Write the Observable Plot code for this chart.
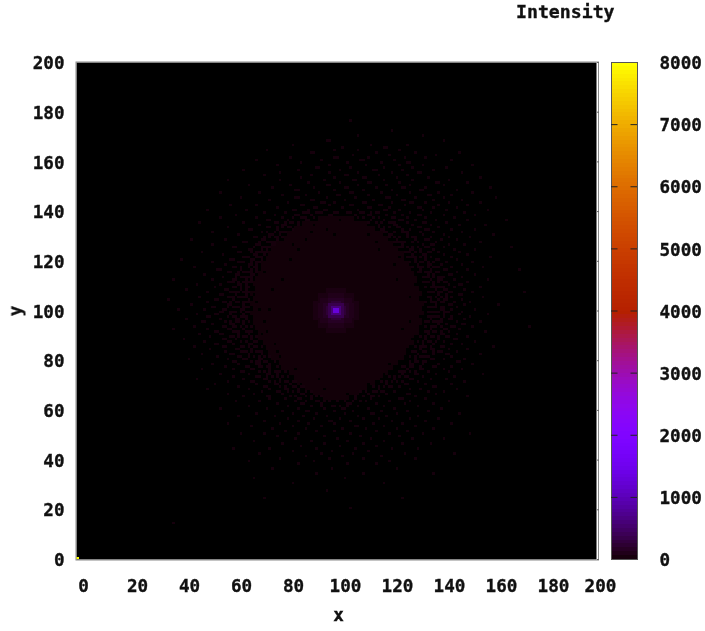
<!DOCTYPE html>
<html><head><meta charset="utf-8">
<script src="https://cdn.jsdelivr.net/npm/d3@7"></script>
<script src="https://cdn.jsdelivr.net/npm/@observablehq/plot@0.6"></script>
<style>
html,body{margin:0;padding:0;background:#fff}
#chart{position:relative;width:705px;height:631px;overflow:hidden}
#chart svg{position:absolute;left:0;top:0;background:transparent}
#chart svg text{filter:blur(.3px);stroke:#111;stroke-width:.35px}
#title{position:absolute;left:516px;top:1px;font:bold 18.2px 'DejaVu Sans Mono',monospace;color:#111;filter:blur(.3px);-webkit-text-stroke:.35px #111}
</style></head><body>
<div id="chart"><div id="title">Intensity</div></div>
<script>
// Axis ticks
const xTicksMiddle = [20,40,60,80,100,120,140,160,180];
const yTicks = [0,20,40,60,80,100,120,140,160,180,200];
const barTicks = [0,1000,2000,3000,4000,5000,6000,7000,8000];
const intensityDomain = [0,8000];

// Dim central disc, read row by row (two-unit rows)
const discY  = [136,134,132,130,128,126,124,122,120,118,116,114,112,110,108,106,104,102,100,98,96,94,92,90,88,86,84,82,80,78,76,74,72,70,68,66,64];
const discX1 = [93,87,84,81,80,77,75,74,73,71,71,70,69,68,69,67,68,67,68,67,68,68,69,70,70,72,73,74,75,78,79,82,84,85,88,91,95];
const discX2 = [107,112,115,118,120,122,124,126,126,128,129,130,131,131,132,133,132,134,133,134,133,133,132,132,130,130,128,127,126,124,122,120,118,115,112,109,105];
const discLevel = 42;

// Black gaps inside the disc, mostly towards its edge
const holeX = [82,88,75,72,76,84,95,112,120,125,128,122,112,96,79,74,71,86,104,118,127,130,116,91,85,101,69,132,123,78,108,93,73,126,99,81,115,70,129,89,68,133,83,117,77,124,90,110,72,128];
const holeY = [120,128,108,95,86,76,68,70,78,92,105,118,130,132,112,100,90,70,66,74,84,110,124,134,124,136,103,97,112,81,65,72,91,79,130,132,127,100,88,67,106,101,126,72,83,121,131,67,115,95];

// Glow around the peak, drawn from the outside in
const coreX1 = [96,93,91, 97,94,93, 97,95, 98,96, 97, 98, 99];
const coreX2 = [104,107,109, 103,106,107, 103,105, 102,104, 103, 102, 101];
const coreY1 = [91,93,96, 93,95,97, 95,97, 96,98, 97, 98, 99];
const coreY2 = [109,107,104, 107,105,103, 105,103, 104,102, 103, 102, 101];
const coreV  = [85,85,85, 125,125,125, 180,180, 270,270, 390, 640, 1300];

// The single bright cell in the bottom-left corner
const cornerX = [0];
const cornerY = [0];
const cornerV = [8000];

// Scattered faint cells: each row is y, then its x positions
const speckleLevel = 58;
const speckleRows = [
[176,105],[172,121],[170,108,133],[168,96,97,141],[166,83,113,127],[165,102,118,119],
[164,73,99,108,124],[163,90,91,115,130,147],[162,106,120,138],[161,82,99,100,112,126,134],
[160,69,94,109,110,122,144],[159,86,104,117,127,128],[158,77,97,111,124,133,152],[157,92,93,105,118,129,142],
[156,64,85,101,114,115,125,137],[155,78,97,108,121,131,132,148],[154,72,90,103,104,116,127],[153,86,99,110,111,123,135,155],
[152,58,78,95,106,107,118,129,143],[151,89,101,112,113,124,138,139,150],[150,66,82,96,97,108,119,128,141],[149,75,91,103,104,115,125,126,134,159],
[148,84,85,99,110,121,132,133,146],[147,55,70,93,105,106,117,128,139,152],[146,79,88,100,101,112,123,135,136,144],[145,63,84,85,96,107,119,120,130,141,161],
[144,74,90,91,103,114,125,126,137,148],[143,81,94,95,99,110,111,121,128,129,134,143,155],[142,59,69,86,87,97,105,106,116,117,126,139,150],[141,77,91,92,102,112,113,120,131,132,137,146],
[140,50,65,83,84,89,95,96,108,118,119,124,133,142,158],[139,72,80,87,88,92,93,100,104,110,115,116,122,128,136,149],[138,61,76,84,85,90,97,98,107,112,113,119,125,131,132,141,153],[137,55,69,79,86,87,91,102,103,108,114,121,122,127,134,145],
[136,73,74,81,88,89,113,118,124,125,130,138,150,165],[135,47,64,76,77,83,85,115,120,121,127,133,134,142],[134,70,79,80,85,116,122,123,129,136,147,157],[133,58,73,74,81,82,118,124,131,132,139],
[132,66,67,77,83,117,118,125,128,134,135,144,153],[131,52,71,78,79,119,126,127,132,137,148],[130,62,74,75,78,120,121,127,133,141,160],[129,68,69,76,79,122,129,130,136,143,151],
[128,44,57,71,72,77,123,130,134,135,140,146],[127,64,65,73,75,124,125,131,138,155],[126,52,69,70,75,76,125,133,136,137,143,149],[125,60,61,72,73,127,134,135,141,167],
[124,66,67,71,73,128,129,132,137,145,153],[123,48,62,63,70,72,128,135,136,139,147],[122,56,68,69,72,129,133,134,141,150],[121,64,65,70,127,130,136,144,159],
[120,40,59,60,67,68,71,130,134,138,139,146],[119,52,62,63,69,70,130,132,137,142,152],[118,57,66,67,69,131,135,136,140,148],[117,45,60,61,68,129,133,138,139,144,156],
[116,54,55,63,67,69,132,136,141,142,150,170],[115,58,59,65,66,134,135,139,146],[114,49,61,62,67,68,135,137,143,144,153],[113,56,63,64,66,134,140,141,148],
[112,37,52,60,61,65,67,136,139,140,145,158],[111,58,59,64,66,135,141,142,150],[110,46,55,62,63,65,137,143,147,148],[109,53,60,61,66,136,139,140,145,155],
[108,42,57,58,63,65,138,141,142,149],[107,50,59,60,64,137,143,144,152,172],[106,55,56,61,65,139,142,147,148],[105,47,58,59,63,64,138,144,156],
[104,35,53,54,60,66,136,139,141,142,148],[103,50,56,57,62,65,137,140,145,151],[102,44,58,59,64,138,143,144,149,162],[101,52,53,60,61,66,136,141,146],
[100,39,49,56,57,63,64,140,141,144,153],[99,55,56,61,65,137,139,142,143,148],[98,46,53,54,59,64,141,147,158],[97,50,51,58,63,138,139,144,151],
[96,42,55,61,62,65,136,140,143,144,149],[95,48,49,57,62,137,138,146,155],[94,52,59,60,64,139,142,148,149],[93,45,56,57,61,138,144,145,152,174],
[92,37,50,58,59,64,136,141,142,147],[91,53,54,60,65,137,143,157],[90,47,55,56,62,66,135,140,141,146],[89,51,59,60,64,136,142,143,150],
[88,41,56,57,61,67,134,139,145,146],[87,49,58,59,63,135,136,141,153],[86,53,54,60,66,67,133,137,144,148],[85,45,56,57,64,68,134,140,141,160],
[84,51,61,62,67,132,136,137,143,150],[83,57,63,64,69,133,139,140,146],[82,48,59,60,66,71,131,137,142,143,155],[81,54,62,63,68,132,135,144],
[80,43,58,64,65,70,71,130,136,137,141,149],[79,60,61,67,72,130,134,146,147],[78,52,62,69,70,74,128,129,133,139,152],[77,57,65,66,71,129,137,138,144],
[76,48,60,67,68,74,127,132,133,141,148],[75,63,64,70,76,77,126,135,143],[74,55,66,73,74,77,125,130,131,138,156],[73,60,69,70,75,124,133,145],
[72,46,64,72,73,78,122,128,129,136,142],[71,58,67,68,74,80,81,121,131,149],[70,53,69,76,77,82,119,126,127,134,144],[69,62,72,73,78,84,118,124,137,138],
[68,50,66,74,80,81,85,116,128,132,146],[67,71,77,78,83,114,115,122,135,141],[66,58,68,79,86,87,112,119,127,128,138],[65,64,73,74,82,88,110,116,130,150],
[64,74,80,85,86,90,107,113,124,125,134],[63,61,70,84,92,93,100,111,120,128,143],[62,77,86,87,94,104,105,115,126,137],[61,66,81,90,98,99,108,118,131],
[60,55,73,85,95,102,103,112,122,140],[59,79,88,89,99,106,117,127,135],[58,69,83,92,103,113,114,123,147],[57,62,76,87,96,108,119,131],
[56,81,91,101,110,116,128,139],[55,72,85,97,98,105,121,134],[54,58,78,89,99,114,125,144],[53,67,83,94,107,108,118,130],
[52,75,88,102,111,123,137],[51,80,92,99,115,127],[50,63,72,85,105,120,133,151],[49,77,95,109,124],
[48,84,100,113,129,141],[47,68,90,104,118],[46,79,95,110,125,136],[45,86,101,115],
[44,60,74,92,107,121,131],[43,83,98,112],[42,70,94,106,126,145],[41,88,102,117],
[40,78,97,110,130],[39,66,91,120],[38,85,104,115],[36,75,98,123],[34,92,110,137],[32,68,103],[30,83,118],[27,96],[24,72,125],[20,105],[14,37]
];
// More faint cells crowding the disc's rim
const rimRows = [
[139,89,94,99,105,109,113],[137,83,88,93,98,101,106,110,116],[135,80,82,87,91,94,109,112,117,122],[133,77,79,84,86,113,116,120,123],
[131,73,76,80,82,115,118,122,125],[129,72,74,77,80,118,120,124,127],[127,70,74,76,122,123,126,129],[125,68,71,74,124,125,129,131],
[123,67,69,71,73,126,127,130,132],[121,66,69,71,128,129,132,134],[119,64,67,70,128,130,133,135],[117,63,66,69,131,132,135,137],
[115,62,64,67,69,131,132,136,138],[113,61,65,67,133,135,137,139],[111,60,62,65,67,133,134,137,139],[109,60,63,65,134,137,138,141],
[107,61,62,65,66,135,136,139,140],[105,60,62,65,135,136,140,142],[103,59,61,64,66,134,136,138,141],[101,58,62,64,65,135,137,138,140],
[99,59,60,63,66,135,136,138,141],[97,60,61,64,65,135,136,137,141],[95,59,61,64,66,134,135,139,140],[93,60,63,65,67,134,136,137,140],
[91,61,62,66,67,134,135,138,140],[89,62,65,67,69,132,134,137,139],[87,63,65,68,69,131,133,135,138],[85,63,66,69,71,130,132,133,136],
[83,65,67,70,71,129,130,134,137],[81,66,70,72,74,128,130,133,134],[79,69,70,73,76,126,128,131,133],[77,70,73,74,77,125,126,128,132],
[75,72,74,78,80,124,125,128,130],[73,73,77,79,81,120,122,126,127],[71,76,78,83,84,117,119,123,125],[69,80,83,86,87,114,116,120,121],
[67,81,85,88,90,109,111,117,118],[65,84,90,92,94,104,107,113,114],[63,88,95,97,103,106,109],[61,94,101,104]
];
const scatterRows = speckleRows.concat(rimRows);
const speckleX = scatterRows.flatMap(r => r.slice(1));
const speckleY = scatterRows.flatMap(r => r.slice(1).map(() => r[0]));

const fontSpec = "bold 17.6px 'DejaVu Sans Mono',monospace";
const ink = "#111";
const palette = t => `rgb(${255*Math.sqrt(t)},${255*t*t*t},${255*Math.max(0,Math.sin(2*Math.PI*t))})`;
const colorScale = {type:"linear", domain:intensityDomain, interpolate:palette};

const cell = (xs, ys, v) => Plot.rect(d3.range(xs.length), {
  x1:i=>xs[i], x2:i=>xs[i]+1, y1:i=>ys[i], y2:i=>ys[i]+1,
  fill:i=>typeof v==="number"?v:v[i], shapeRendering:"crispEdges"
});

const main = Plot.plot({
  width:705, height:631, marginLeft:76, marginRight:109, marginTop:62, marginBottom:72,
  style:{font:fontSpec, color:ink, background:"transparent"},
  x:{domain:[0,200], label:null},
  y:{domain:[0,200], label:null},
  color:colorScale,
  marks:[
    Plot.frame({fill:"#000"}),
    cell(speckleX, speckleY, speckleLevel),
    Plot.rect(d3.range(discY.length), {x1:i=>discX1[i], x2:i=>discX2[i], y1:i=>discY[i], y2:i=>discY[i]+2, fill:()=>discLevel, shapeRendering:"crispEdges"}),
    cell(holeX, holeY, 0),
    Plot.rect(d3.range(coreV.length), {x1:i=>coreX1[i], x2:i=>coreX2[i], y1:i=>coreY1[i], y2:i=>coreY2[i], fill:i=>coreV[i], shapeRendering:"crispEdges"}),
    cell(cornerX, cornerY, cornerV),
    Plot.frame({stroke:"#8a8a8a", strokeWidth:1, insetLeft:-.5, insetTop:-.5, insetBottom:-.5, insetRight:-2}),
    Plot.axisY(yTicks, {anchor:"left", tickSize:0, tickPadding:12, dy:1, label:"y", labelAnchor:"center", labelOffset:68, labelArrow:"none", fill:ink}),
    Plot.axisY(yTicks, {anchor:"right", tickSize:2, fill:"none", label:null, stroke:"#666"}),
    Plot.axisX(xTicksMiddle, {anchor:"bottom", tickSize:0, tickPadding:20, dx:9, label:null, fill:ink}),
    Plot.axisX([0], {anchor:"bottom", tickSize:0, tickPadding:20, dx:7, label:null, fill:ink}),
    Plot.axisX([200], {anchor:"bottom", tickSize:0, tickPadding:20, dx:4, label:null, fill:ink}),
    Plot.text(["x"], {frameAnchor:"bottom", dx:2, dy:61, fill:ink})
  ]
});
document.getElementById("chart").appendChild(main);

// Colour bar
const barLevels = d3.range(0, 8000, 62.5);
const innerTicks = barTicks.slice(1,-1);
const bar = Plot.plot({
  width:705, height:631, marginLeft:611, marginRight:68, marginTop:62, marginBottom:72,
  style:{font:fontSpec, color:ink, background:"transparent"},
  x:{domain:[0,1], axis:null},
  y:{domain:intensityDomain, label:null},
  color:colorScale,
  marks:[
    Plot.rect(barLevels, {x1:()=>0, x2:()=>1, y1:d=>d, y2:d=>d+62.5, fill:d=>d+62.5, shapeRendering:"crispEdges"}),
    Plot.frame({stroke:"#555", strokeWidth:1}),
    Plot.ruleY(innerTicks, {x1:()=>0, x2:()=>0.25, stroke:"#222", strokeWidth:1}),
    Plot.ruleY(innerTicks, {x1:()=>0.75, x2:()=>1, stroke:"#222", strokeWidth:1}),
    Plot.axisY(barTicks, {anchor:"right", tickSize:0, tickPadding:22, dy:1, tickFormat:d=>String(d), label:null, fill:ink})
  ]
});
document.getElementById("chart").appendChild(bar);
</script></body></html>
